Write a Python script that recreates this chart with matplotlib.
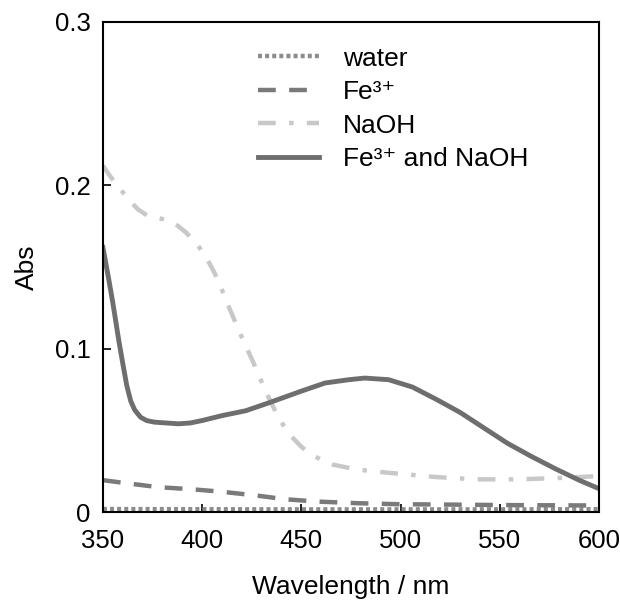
import matplotlib
matplotlib.use("Agg")
import matplotlib.pyplot as plt
import numpy as np

plt.rcParams['font.family'] = ['Liberation Sans', 'DejaVu Sans']

wl_solid = [350, 353, 355, 358, 360, 362, 364, 366, 369, 372, 376, 382, 388, 394, 400, 410, 422, 434, 450, 462, 474, 482, 494, 506, 518, 530, 542, 554, 566, 578, 590, 600]
abs_solid = [0.162, 0.142, 0.128, 0.105, 0.091, 0.0775, 0.068, 0.0625, 0.058, 0.056, 0.055, 0.0545, 0.054, 0.0545, 0.056, 0.059, 0.062, 0.067, 0.074, 0.079, 0.081, 0.082, 0.081, 0.0765, 0.069, 0.061, 0.0515, 0.042, 0.034, 0.0265, 0.0195, 0.0143]

wl_naoh = [350, 354, 358, 363, 368, 373, 378, 384, 388, 392, 398, 402, 406, 410, 414, 420, 426, 432, 438, 442, 446, 450, 454, 460, 466, 478, 494, 518, 538, 558, 578, 600]
abs_naoh = [0.212, 0.205, 0.199, 0.191, 0.185, 0.181, 0.180, 0.178, 0.175, 0.171, 0.163, 0.156, 0.147, 0.136, 0.124, 0.107, 0.091, 0.074, 0.059, 0.051, 0.045, 0.040, 0.036, 0.032, 0.029, 0.026, 0.024, 0.0214, 0.020, 0.020, 0.0207, 0.022]

wl_fe = [350, 362, 378, 394, 410, 428, 442, 458, 478, 498, 528, 558, 600]
abs_fe = [0.0195, 0.0176, 0.0152, 0.014, 0.0124, 0.010, 0.0078, 0.0064, 0.0054, 0.0048, 0.0045, 0.0042, 0.004]

wl_water = [350, 400, 450, 500, 550, 600]
abs_water = [0.0018, 0.0017, 0.0016, 0.0016, 0.0016, 0.0017]

labels = ['water', 'Fe³⁺', 'NaOH', 'Fe³⁺ and NaOH']
x_ticks = [350, 400, 450, 500, 550, 600]
y_ticks = [0, 0.1, 0.2, 0.3]
y_ticklabels = ['0', '0.1', '0.2', '0.3']

fig = plt.figure(figsize=(6.2, 6.05), dpi=100)
ax = fig.add_axes([0.166, 0.1537, 0.8, 0.81])

lw = 3.2
ax.plot(wl_water, abs_water, color='#8c8c8c', lw=lw, linestyle=(0, (0.9, 0.7)), label=labels[0])
ax.plot(wl_fe, abs_fe, color='#7a7a7a', lw=lw, linestyle=(0, (4, 3)), label=labels[1])
ax.plot(wl_naoh, abs_naoh, color='#c8c8c8', lw=lw, linestyle=(0, (4, 3, 1, 3)), label=labels[2])
ax.plot(wl_solid, abs_solid, color='#6e6e6e', lw=3.5, linestyle='-', label=labels[3])

ax.set_xlim(350, 600)
ax.set_ylim(0, 0.3)
ax.set_xticks(x_ticks)
ax.set_yticks(y_ticks)
ax.set_yticklabels(y_ticklabels)
ax.tick_params(direction='in', length=6, width=1.2, labelsize=18.5, top=False, right=False)
ax.tick_params(axis='x', pad=12)
ax.tick_params(axis='y', pad=9)
for s in ax.spines.values():
    s.set_linewidth(1.5)

ax.set_xlabel('Wavelength / nm', fontsize=19, labelpad=16)
ax.set_ylabel('Abs', fontsize=19, labelpad=11)

leg = ax.legend(loc='upper left', bbox_to_anchor=(0.265, 0.998), frameon=False, fontsize=19,
                handlelength=2.3, handletextpad=0.9, labelspacing=0.36)

fig.savefig('out.png', dpi=100)
